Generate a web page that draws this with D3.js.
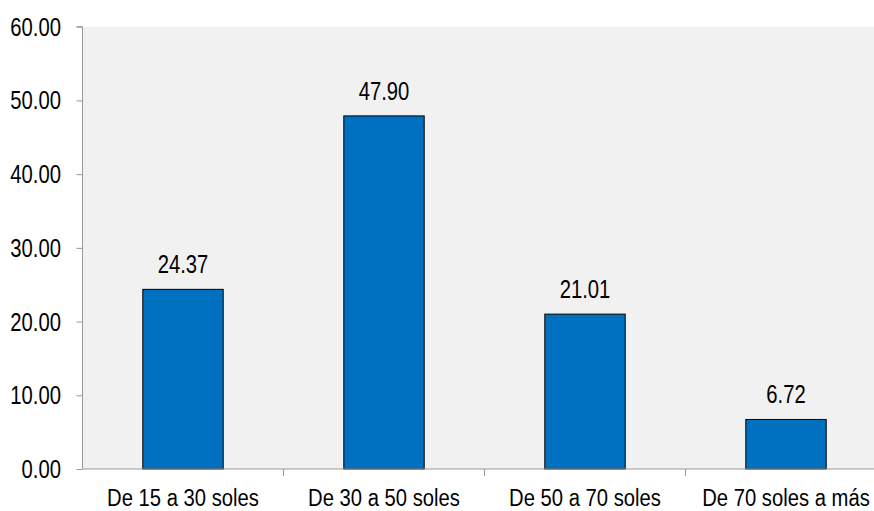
<!DOCTYPE html>
<html>
<head>
<meta charset="utf-8">
<script src="https://cdn.jsdelivr.net/npm/d3@7"></script>
<style>
  html, body { margin: 0; padding: 0; background: #ffffff; }
  svg { display: block; }
  text { font-family: "Liberation Sans", Arial, sans-serif; fill: #000; }
</style>
</head>
<body>
<svg id="chart" width="874" height="511"></svg>
<script>
// Gasto por rango (porcentaje)
const categories = ["De 15 a 30 soles", "De 30 a 50 soles", "De 50 a 70 soles", "De 70 soles a más"];
const values = [24.37, 47.90, 21.01, 6.72];
const yTicks = [0, 10, 20, 30, 40, 50, 60];

const svg = d3.select("#chart");
const margin = { left: 82.5, top: 26.7, bottom: 42 };
const W = 874, H = 511;
const bandW = 201;
const plotRight = margin.left + bandW * categories.length;
const plotBottom = H - margin.bottom;

// Condensed lettering: tall glyphs, narrowed horizontally
const FONT = 25, SX = 0.81;
function label(g, x, y, anchor, str, size = FONT, sx = SX) {
  return g.append("text")
    .attr("transform", `translate(${x},${y}) scale(${sx},1)`)
    .attr("text-anchor", anchor)
    .attr("font-size", size)
    .text(str);
}

const x = d3.scaleBand()
  .domain(categories)
  .range([margin.left, plotRight])
  .paddingInner(0.6)
  .paddingOuter(0.3);

const y = d3.scaleLinear()
  .domain([0, 60])
  .range([plotBottom, margin.top]);

// Plot area background
svg.append("rect")
  .attr("x", margin.left)
  .attr("y", margin.top)
  .attr("width", plotRight - margin.left)
  .attr("height", plotBottom - margin.top)
  .attr("fill", "#f1f1f1");

// Bars
svg.append("g")
  .selectAll("rect")
  .data(values)
  .join("rect")
  .attr("x", (d, i) => x(categories[i]))
  .attr("y", d => y(d))
  .attr("width", x.bandwidth())
  .attr("height", d => y(0) - y(d))
  .attr("fill", "#0070c0")
  .attr("stroke", "#000")
  .attr("stroke-width", 1);

// Value labels
const gv = svg.append("g");
values.forEach((v, i) => {
  label(gv, x(categories[i]) + x.bandwidth() / 2, y(v) - 16, "middle", v.toFixed(2));
});

// Y axis
const yAxis = d3.axisLeft(y)
  .tickValues(yTicks)
  .tickFormat("")
  .tickSize(6);
const gy = svg.append("g")
  .attr("transform", `translate(${margin.left},0)`)
  .call(yAxis);
gy.select(".domain").attr("stroke", "#999").attr("d", `M-6,${margin.top}H0V${plotBottom}`);
gy.selectAll(".tick line").attr("stroke", "#999");
gy.selectAll(".tick text").remove();
const gyl = svg.append("g");
yTicks.forEach(t => label(gyl, 61, y(t) + 9, "end", t.toFixed(2)));

// X axis: ticks at band boundaries
const gx = svg.append("g")
  .attr("transform", `translate(0,${plotBottom})`);
gx.append("line")
  .attr("x1", margin.left).attr("x2", plotRight)
  .attr("y1", 0).attr("y2", 0)
  .attr("stroke", "#999");
const boundaries = d3.range(1, categories.length + 1).map(i => margin.left + bandW * i);
gx.selectAll("line.tk")
  .data(boundaries)
  .join("line")
  .attr("class", "tk")
  .attr("x1", d => d).attr("x2", d => d)
  .attr("y1", 0).attr("y2", 7)
  .attr("stroke", "#999");
categories.forEach(c => label(gx, x(c) + x.bandwidth() / 2, 36.5, "middle", c, 24.5, 0.826));
</script>
</body>
</html>
